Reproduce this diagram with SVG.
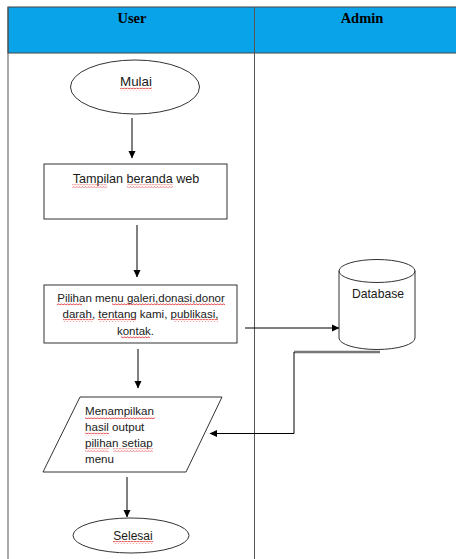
<svg xmlns="http://www.w3.org/2000/svg" width="456" height="559" viewBox="0 0 456 559">
<defs>
<style>
.lane{fill:none;stroke:#555;stroke-width:1}
.hdr{fill:#08A3E8;stroke:#444;stroke-width:1}
.ht{font-family:"Liberation Serif","Times New Roman",serif;font-weight:bold;font-size:14.5px;fill:#000;text-anchor:middle}
.shape{fill:#fff;stroke:#333;stroke-width:1}
.t{font-family:"Liberation Sans",Arial,sans-serif;fill:#1a1a1a}
.c{text-anchor:middle}
.ln{fill:none;stroke:#000;stroke-width:1}
.gl{fill:none;stroke:#777;stroke-width:2.5}
.sq{fill:url(#wave)}
</style>
<pattern id="wave" x="0" y="0" width="3" height="3" patternUnits="userSpaceOnUse">
<polyline points="0,2.3 1.5,0.7 3,2.3" fill="none" stroke="#e02020" stroke-width="0.9"/>
</pattern>
<marker id="ah" markerWidth="8" markerHeight="8" refX="7" refY="4" orient="auto" markerUnits="userSpaceOnUse">
<path d="M0,0.5 L7.5,4 L0,7.5 Z" fill="#000"/>
</marker>
</defs>

<g id="lanes">
<rect class="hdr" x="8" y="7" width="460" height="46"/>
<line class="lane" x1="8" y1="7" x2="8" y2="560"/>
<line class="lane" x1="254.5" y1="7" x2="254.5" y2="560"/>
<text class="ht" x="132" y="22.5">User</text>
<text class="ht" x="362" y="22.5">Admin</text>
</g>

<g id="connectors">
<line class="ln" x1="132" y1="118" x2="132" y2="158" marker-end="url(#ah)"/>
<line class="ln" x1="137" y1="225" x2="137" y2="277" marker-end="url(#ah)"/>
<line class="ln" x1="245" y1="328" x2="339" y2="328" marker-end="url(#ah)"/>
<line class="ln" x1="138" y1="349" x2="138" y2="388" marker-end="url(#ah)"/>
<line class="ln" x1="127" y1="477" x2="127" y2="517" marker-end="url(#ah)"/>
<line class="gl" x1="380" y1="352" x2="294" y2="352"/>
<polyline class="ln" points="294,352 294,433.5 210,433.5" marker-end="url(#ah)"/>
</g>

<g id="mulai">
<ellipse class="shape" cx="135" cy="87" rx="64.5" ry="27"/>
<text class="t c" x="136" y="86" font-size="13.4px">Mulai</text>
<rect class="sq" x="120" y="87.5" width="32" height="3"/>
</g>

<g id="beranda">
<rect class="shape" x="44" y="164" width="183" height="55"/>
<text class="t c" x="136" y="183" font-size="12.6px">Tampilan beranda web</text>
<rect class="sq" x="72" y="184.5" width="35" height="3"/>
<rect class="sq" x="127" y="184.5" width="46" height="3"/>
</g>

<g id="pilihan">
<rect class="shape" x="44" y="285" width="193" height="58"/>
<text class="t c" font-size="11.5px"><tspan x="141" y="301.5">Pilihan menu galeri,donasi,donor</tspan><tspan x="140.5" y="318">darah, tentang kami, publikasi,</tspan><tspan x="135.5" y="335">kontak.</tspan></text>
<rect class="sq" x="57" y="302.5" width="25" height="3"/>
<rect class="sq" x="112" y="302.5" width="113" height="3"/>
<rect class="sq" x="63" y="319" width="30" height="3"/>
<rect class="sq" x="98" y="319" width="38" height="3"/>
<rect class="sq" x="173" y="319" width="45" height="3"/>
<rect class="sq" x="121" y="336" width="29" height="3"/>
</g>

<g id="database">
<path class="shape" d="M339,271 A38,11.5 0 0 1 415,271 L415,338 A38,11.5 0 0 1 339,338 Z"/>
<path fill="none" stroke="#333" stroke-width="1" d="M339,271 A38,11.5 0 0 0 415,271"/>
<text class="t c" x="378" y="297.5" font-size="12.2px">Database</text>
</g>

<g id="output">
<polygon class="shape" points="80,397 222,397 186,472 43,472"/>
<text class="t" font-size="11.6px"><tspan x="85" y="415">Menampilkan</tspan><tspan x="85" y="431">hasil output</tspan><tspan x="85" y="447">pilihan setiap</tspan><tspan x="85" y="463">menu</tspan></text>
<rect class="sq" x="85" y="416.5" width="70" height="3"/>
<rect class="sq" x="85" y="432.5" width="24" height="3"/>
<rect class="sq" x="85" y="448.5" width="24" height="3"/>
<rect class="sq" x="113" y="448.5" width="40" height="3"/>
</g>

<g id="selesai">
<ellipse class="shape" cx="131" cy="535.5" rx="58" ry="17.5"/>
<text class="t c" x="133" y="540" font-size="12px">Selesai</text>
<rect class="sq" x="113" y="541" width="40" height="3"/>
</g>
</svg>
